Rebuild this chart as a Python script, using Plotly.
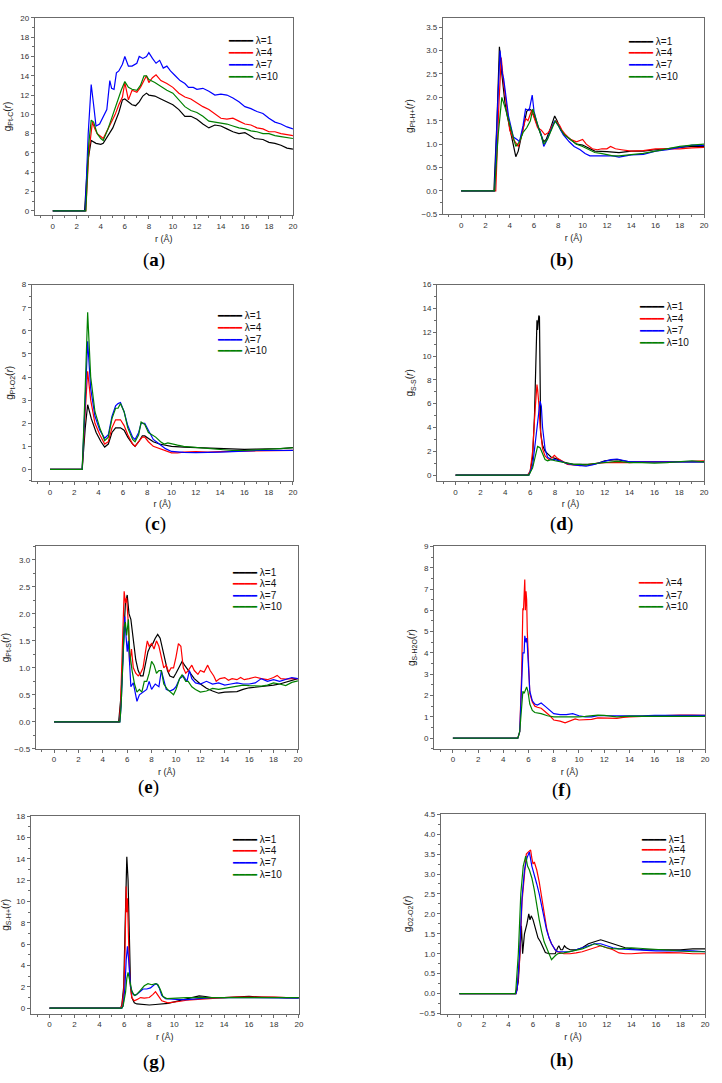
import plotly.graph_objects as go

# ---------------- data (r in Angstrom, g(r)) ----------------
lambdas = ["λ=1", "λ=4", "λ=7", "λ=10"]
colors = ["#000000", "#FF0000", "#0000FF", "#008000"]

# (a) Pt-C
a_l1 = [(0,0),(2.65,0),(2.9,5.0),(3.2,7.3),(3.6,7.0),(4.0,6.9),(4.2,7.0),(4.5,7.6),(5.0,8.6),(5.5,10.2),(5.8,11.5),(6.0,11.6),(6.3,11.3),(6.6,11.0),(6.9,10.9),(7.2,11.3),(7.5,11.9),(7.8,12.2),(8.0,12.0),(8.5,11.9),(9.0,11.6),(9.5,11.3),(10.0,11.0),(10.5,10.5),(11.0,9.8),(11.5,9.8),(12.0,9.5),(12.5,9.0),(13.0,8.6),(13.5,8.9),(14.0,8.8),(14.5,8.5),(15.0,8.2),(15.5,8.0),(16.0,8.1),(16.3,7.9),(16.8,7.5),(17.5,7.4),(18.0,7.1),(18.5,7.0),(19.0,6.8),(19.5,6.5),(20.0,6.4)]
a_l4 = [(0,0),(2.75,0),(3.0,6.0),(3.3,9.2),(3.5,8.5),(3.7,8.0),(4.0,7.7),(4.2,7.5),(4.6,8.5),(5.0,9.5),(5.2,10.0),(5.5,11.0),(5.8,11.8),(6.0,13.3),(6.3,11.5),(6.6,12.5),(7.0,12.3),(7.3,12.8),(7.6,13.5),(7.8,14.0),(8.0,13.3),(8.3,13.8),(8.6,14.1),(9.0,13.5),(9.5,13.2),(10.0,12.8),(10.5,12.2),(11.0,11.8),(11.5,11.6),(12.0,11.2),(12.5,10.8),(13.0,10.5),(13.5,10.0),(14.0,9.6),(14.5,9.5),(15.0,9.6),(15.5,9.3),(16.0,9.0),(16.5,8.9),(17.0,8.6),(17.5,8.5),(18.0,8.2),(18.5,8.2),(19.0,8.0),(19.5,7.9),(20.0,7.8)]
a_l7 = [(0,0),(2.7,0),(2.95,8.0),(3.2,13.1),(3.4,11.0),(3.6,8.8),(3.9,9.0),(4.3,10.0),(4.5,10.5),(4.75,13.5),(4.9,12.7),(5.1,12.6),(5.3,14.3),(5.5,14.5),(5.8,15.2),(6.0,16.0),(6.3,15.0),(6.6,15.0),(7.0,15.3),(7.2,16.0),(7.5,15.8),(7.8,16.0),(8.0,16.4),(8.3,15.8),(8.6,15.3),(8.9,15.6),(9.2,14.8),(9.5,15.0),(9.8,14.5),(10.2,14.0),(10.6,13.5),(11.0,13.2),(11.3,12.8),(11.7,12.8),(12.0,12.6),(12.5,12.7),(13.0,12.4),(13.5,12.0),(14.0,12.1),(14.5,12.0),(15.0,11.7),(15.5,11.3),(16.0,10.8),(16.5,10.6),(17.0,10.3),(17.5,10.1),(18.0,9.6),(18.5,9.2),(19.0,9.0),(19.5,8.7),(20.0,8.5)]
a_l10 = [(0,0),(2.75,0),(3.0,7.0),(3.2,9.4),(3.4,9.2),(3.7,8.0),(4.0,7.5),(4.2,7.3),(4.6,8.5),(5.0,10.0),(5.4,11.5),(5.7,12.5),(6.0,13.4),(6.3,12.8),(6.6,12.6),(7.0,12.5),(7.3,13.0),(7.6,14.0),(7.8,14.0),(8.0,13.6),(8.5,13.3),(9.0,12.9),(9.5,12.5),(10.0,12.2),(10.5,11.5),(11.0,10.8),(11.5,10.4),(12.0,10.2),(12.5,9.8),(13.0,9.3),(13.5,9.2),(14.0,9.1),(14.5,9.0),(15.0,8.8),(15.5,8.6),(16.0,8.5),(16.5,8.3),(17.0,8.2),(17.5,8.0),(18.0,8.0),(18.5,7.8),(19.0,7.7),(19.5,7.6),(20.0,7.5)]

# (b) Pt-H+
b_l1 = [(0,0),(2.7,0),(2.95,1.5),(3.15,3.08),(3.35,2.5),(3.6,1.9),(3.8,1.6),(4.1,1.2),(4.35,0.9),(4.5,0.73),(4.7,0.85),(4.9,1.1),(5.2,1.5),(5.4,1.7),(5.6,1.75),(5.8,1.72),(6.0,1.6),(6.2,1.45),(6.5,1.25),(6.8,1.05),(7.0,1.1),(7.3,1.3),(7.6,1.55),(7.7,1.6),(7.9,1.5),(8.2,1.3),(8.5,1.2),(9.0,1.1),(9.5,1.0),(10.0,0.98),(10.5,0.92),(11.0,0.85),(12.0,0.84),(13.0,0.82),(14.0,0.85),(15.0,0.85),(16.0,0.88),(17.0,0.9),(18.0,0.93),(19.0,0.95),(20.0,0.95)]
b_l4 = [(0,0),(2.85,0),(3.1,1.8),(3.3,2.85),(3.5,2.3),(3.8,1.7),(4.0,1.3),(4.3,1.1),(4.6,1.0),(4.7,0.95),(5.0,1.2),(5.3,1.55),(5.5,1.5),(5.8,1.72),(6.1,1.5),(6.3,1.35),(6.6,1.3),(6.9,1.2),(7.2,1.25),(7.5,1.4),(7.8,1.5),(8.1,1.4),(8.3,1.3),(8.6,1.2),(9.0,1.1),(9.5,1.05),(10.0,1.1),(10.3,1.0),(10.8,0.9),(11.2,0.88),(11.6,0.9),(12.0,0.9),(12.3,0.95),(12.7,0.9),(13.2,0.88),(14.0,0.85),(15.0,0.86),(16.0,0.9),(17.0,0.9),(18.0,0.9),(19.0,0.92),(20.0,0.93)]
b_l7 = [(0,0),(2.75,0),(3.0,1.8),(3.2,3.0),(3.4,2.5),(3.5,2.4),(3.9,1.6),(4.3,1.15),(4.6,1.1),(4.8,1.05),(5.1,1.4),(5.3,1.75),(5.6,1.72),(5.85,2.05),(6.0,1.7),(6.3,1.4),(6.6,1.2),(6.8,0.95),(7.0,1.05),(7.4,1.3),(7.7,1.5),(8.0,1.4),(8.4,1.2),(8.9,1.05),(9.3,0.95),(9.8,0.88),(10.2,0.8),(10.6,0.75),(11.0,0.75),(11.5,0.75),(12.0,0.75),(12.5,0.75),(13.0,0.72),(13.5,0.75),(14.0,0.77),(15.0,0.78),(16.0,0.85),(17.0,0.88),(18.0,0.93),(19.0,0.98),(20.0,0.97)]
b_l10 = [(0,0),(2.75,0),(3.05,1.2),(3.35,2.0),(3.6,1.8),(4.0,1.4),(4.3,1.15),(4.5,0.95),(4.8,1.05),(5.1,1.25),(5.4,1.35),(5.7,1.5),(5.9,1.75),(6.2,1.5),(6.5,1.25),(6.8,1.0),(7.1,1.1),(7.4,1.3),(7.75,1.5),(8.1,1.35),(8.5,1.2),(9.0,1.1),(9.5,1.0),(10.0,0.95),(10.5,0.88),(11.0,0.82),(11.5,0.8),(12.0,0.78),(12.5,0.75),(13.0,0.75),(14.0,0.78),(15.0,0.8),(16.0,0.85),(17.0,0.9),(18.0,0.95),(19.0,0.98),(20.0,1.0)]

# (c) Pt-O2
c_l1 = [(0,0),(2.65,0),(2.9,1.8),(3.1,2.8),(3.4,2.2),(3.8,1.6),(4.2,1.2),(4.5,0.97),(4.8,1.1),(5.1,1.6),(5.4,1.8),(5.8,1.8),(6.1,1.7),(6.4,1.4),(6.8,1.1),(7.0,1.0),(7.3,1.2),(7.6,1.45),(7.8,1.45),(8.1,1.35),(8.5,1.2),(9.0,1.1),(9.5,1.05),(10.0,1.0),(11.0,0.97),(12.0,0.95),(13.0,0.93),(14.0,0.9),(15.0,0.87),(16.0,0.87),(17.0,0.88),(18.0,0.88),(19.0,0.9),(20.0,0.95)]
c_l4 = [(0,0),(2.65,0),(2.9,2.5),(3.1,4.25),(3.35,3.0),(3.7,2.0),(4.1,1.5),(4.5,1.1),(4.8,1.2),(5.1,1.8),(5.4,2.15),(5.8,2.15),(6.1,1.9),(6.4,1.5),(6.8,1.1),(7.0,1.0),(7.3,1.2),(7.6,1.4),(7.8,1.4),(8.1,1.2),(8.5,1.0),(9.0,0.9),(9.5,0.8),(10.0,0.72),(10.5,0.72),(11.0,0.75),(12.0,0.77),(13.0,0.75),(14.0,0.77),(15.0,0.78),(16.0,0.8),(17.0,0.82),(18.0,0.82),(19.0,0.82),(20.0,0.83)]
c_l7 = [(0,0),(2.65,0),(2.9,3.0),(3.1,5.55),(3.35,3.5),(3.7,2.3),(4.1,1.7),(4.5,1.35),(4.8,1.5),(5.1,2.3),(5.4,2.75),(5.6,2.85),(5.8,2.9),(6.1,2.5),(6.4,1.9),(6.8,1.4),(7.0,1.3),(7.3,1.6),(7.5,2.0),(7.8,2.0),(8.1,1.7),(8.5,1.3),(9.0,1.1),(9.5,0.9),(10.0,0.78),(10.5,0.75),(11.0,0.74),(12.0,0.73),(13.0,0.73),(14.0,0.75),(15.0,0.77),(16.0,0.8),(17.0,0.82),(18.0,0.82),(19.0,0.82),(20.0,0.83)]
c_l10 = [(0,0),(2.65,0),(2.9,3.5),(3.1,6.8),(3.35,4.0),(3.7,2.5),(4.1,1.8),(4.5,1.25),(4.8,1.4),(5.1,2.2),(5.4,2.65),(5.6,2.65),(5.8,2.85),(6.1,2.5),(6.4,1.8),(6.8,1.3),(7.0,1.2),(7.3,1.5),(7.5,2.05),(7.8,1.95),(8.1,1.6),(8.5,1.45),(8.7,1.4),(9.1,1.2),(9.4,1.1),(9.7,1.15),(10.0,1.1),(10.5,1.05),(11.0,1.0),(12.0,0.95),(13.0,0.9),(14.0,0.85),(15.0,0.82),(16.0,0.82),(17.0,0.85),(18.0,0.88),(19.0,0.9),(20.0,0.93)]

# (d) S-S
d_l1 = [(0,0),(5.8,0),(6.0,0.3),(6.2,1.5),(6.35,5.0),(6.45,10.0),(6.5,12.8),(6.55,13.0),(6.6,12.2),(6.65,13.0),(6.7,13.4),(6.75,13.3),(6.8,8.0),(6.85,3.5),(7.0,2.5),(7.2,2.0),(7.4,1.8),(7.7,1.5),(8.0,1.4),(8.3,1.3),(8.7,1.1),(9.0,1.0),(9.5,0.9),(10.0,0.9),(10.5,0.85),(11.0,0.9),(11.5,1.0),(12.0,1.2),(12.5,1.25),(13.0,1.3),(13.5,1.2),(14.0,1.1),(15.0,1.1),(16.0,1.1),(17.0,1.1),(18.0,1.1),(19.0,1.15),(20.0,1.1)]
d_l4 = [(0,0),(5.8,0),(6.0,0.3),(6.2,2.0),(6.4,5.5),(6.55,7.6),(6.6,7.2),(6.7,6.0),(6.8,4.0),(7.0,2.2),(7.2,1.6),(7.5,1.3),(7.8,1.5),(7.95,1.65),(8.2,1.4),(8.5,1.2),(8.8,1.0),(9.0,0.9),(9.5,0.85),(10.0,0.8),(10.5,0.85),(11.0,0.95),(11.5,1.0),(12.0,1.05),(12.5,1.05),(13.0,1.0),(14.0,1.05),(15.0,1.1),(16.0,1.1),(17.0,1.1),(18.0,1.1),(19.0,1.15),(20.0,1.2)]
d_l7 = [(0,0),(5.9,0),(6.2,0.8),(6.4,2.5),(6.6,4.5),(6.8,6.2),(6.9,5.8),(7.0,4.0),(7.2,2.2),(7.4,1.5),(7.7,1.3),(8.0,1.3),(8.5,1.15),(9.0,0.95),(9.5,0.85),(10.0,0.8),(10.5,0.75),(11.0,0.85),(11.5,1.0),(12.0,1.2),(12.5,1.3),(13.0,1.35),(13.5,1.2),(14.0,1.1),(15.0,1.1),(16.0,1.1),(17.0,1.15),(18.0,1.1),(19.0,1.15),(20.0,1.1)]
d_l10 = [(0,0),(5.9,0),(6.2,0.6),(6.4,1.5),(6.6,2.4),(6.8,2.3),(7.0,1.8),(7.2,1.3),(7.4,1.2),(7.7,1.3),(8.0,1.2),(8.5,1.1),(9.0,0.95),(9.5,0.9),(10.0,0.9),(10.5,0.85),(11.0,0.95),(11.5,1.0),(12.0,1.1),(12.5,1.15),(13.0,1.15),(13.5,1.1),(14.0,1.05),(15.0,1.05),(16.0,1.0),(17.0,1.05),(18.0,1.1),(19.0,1.2),(20.0,1.1)]

# (e) Pt-S
e_l1 = [(0,0),(5.3,0),(5.5,0.5),(5.7,1.6),(5.85,2.2),(6.0,2.35),(6.15,2.0),(6.3,1.9),(6.5,1.5),(6.7,1.15),(6.9,0.95),(7.1,0.85),(7.3,0.85),(7.5,1.1),(7.7,1.3),(7.9,1.4),(8.1,1.45),(8.3,1.55),(8.5,1.62),(8.7,1.55),(8.9,1.35),(9.1,1.1),(9.3,0.95),(9.5,0.85),(9.8,0.82),(10.0,0.9),(10.3,1.05),(10.5,1.12),(10.7,1.05),(11.0,0.95),(11.5,0.8),(12.0,0.7),(12.5,0.62),(13.0,0.57),(13.5,0.53),(14.0,0.55),(14.5,0.55),(15.0,0.56),(15.5,0.6),(16.0,0.63),(16.5,0.64),(17.0,0.65),(17.5,0.66),(18.0,0.68),(18.5,0.7),(19.0,0.73),(19.5,0.76),(20.0,0.8)]
e_l4 = [(0,0),(5.35,0),(5.45,0.3),(5.6,1.5),(5.75,2.42),(5.85,2.2),(5.95,2.3),(6.1,1.8),(6.2,1.05),(6.35,1.35),(6.5,1.0),(6.7,0.9),(6.9,0.85),(7.1,0.9),(7.3,1.0),(7.5,1.3),(7.65,1.5),(7.8,1.4),(8.0,1.45),(8.2,1.35),(8.4,1.5),(8.6,1.4),(8.8,1.2),(9.0,1.0),(9.2,1.05),(9.4,0.92),(9.6,1.0),(9.8,1.0),(10.0,1.2),(10.2,1.45),(10.4,1.4),(10.6,1.0),(10.8,0.9),(11.0,0.95),(11.3,1.05),(11.5,0.95),(11.8,0.88),(12.0,0.95),(12.3,0.92),(12.6,1.05),(12.8,0.95),(13.1,0.85),(13.3,0.75),(13.6,0.8),(14.0,0.82),(14.3,0.77),(14.6,0.8),(15.0,0.78),(15.3,0.82),(15.6,0.78),(16.0,0.8),(16.5,0.83),(17.0,0.8),(17.5,0.78),(18.0,0.82),(18.3,0.86),(18.6,0.8),(19.0,0.79),(19.5,0.8),(20.0,0.8)]
e_l7 = [(0,0),(5.4,0),(5.5,0.3),(5.65,1.2),(5.8,1.95),(5.9,1.6),(6.0,1.3),(6.1,1.5),(6.2,0.9),(6.3,0.65),(6.5,0.72),(6.7,0.45),(6.8,0.38),(7.0,0.5),(7.3,0.55),(7.6,0.6),(7.8,0.75),(8.0,0.6),(8.3,0.7),(8.6,0.65),(8.8,0.95),(9.0,0.75),(9.2,0.6),(9.5,0.57),(9.8,0.6),(10.0,0.65),(10.3,0.8),(10.6,0.85),(10.9,0.75),(11.1,0.95),(11.3,0.8),(11.6,0.72),(12.0,0.7),(12.5,0.75),(13.0,0.7),(13.5,0.72),(14.0,0.68),(14.5,0.7),(15.0,0.72),(15.5,0.7),(16.0,0.7),(16.5,0.72),(17.0,0.8),(17.5,0.75),(18.0,0.78),(18.5,0.75),(19.0,0.78),(19.5,0.82),(20.0,0.8)]
e_l10 = [(0,0),(5.4,0),(5.5,0.3),(5.65,1.4),(5.75,1.75),(5.85,1.85),(5.95,1.6),(6.1,1.9),(6.2,1.3),(6.4,0.95),(6.6,0.7),(6.8,0.55),(7.0,0.6),(7.2,0.55),(7.4,0.75),(7.6,0.75),(7.8,0.9),(8.0,1.12),(8.2,1.05),(8.4,0.9),(8.6,0.95),(8.8,0.95),(9.0,0.7),(9.3,0.6),(9.6,0.55),(9.8,0.5),(10.0,0.6),(10.3,0.8),(10.5,0.87),(10.8,0.75),(11.0,0.75),(11.3,0.65),(11.6,0.6),(12.0,0.55),(12.5,0.57),(13.0,0.62),(13.5,0.6),(14.0,0.62),(14.5,0.65),(15.0,0.66),(15.5,0.68),(16.0,0.67),(16.5,0.66),(17.0,0.66),(17.5,0.68),(18.0,0.72),(18.5,0.7),(19.0,0.67),(19.5,0.73),(20.0,0.76)]

# (f) S-H2O  (no λ=1 curve)
f_l4 = [(0,0),(5.15,0),(5.3,0.3),(5.45,3.0),(5.55,6.1),(5.6,6.0),(5.7,7.45),(5.75,6.0),(5.8,6.9),(5.85,6.5),(5.9,5.0),(6.0,3.0),(6.1,2.1),(6.3,1.7),(6.5,1.5),(6.7,1.45),(7.0,1.4),(7.3,1.25),(7.6,1.1),(8.0,0.85),(8.5,0.8),(8.9,0.72),(9.3,0.8),(9.7,0.9),(10.0,0.85),(10.5,0.85),(11.0,0.88),(11.5,0.95),(12.0,0.95),(12.5,0.95),(13.0,0.93),(13.5,0.97),(14.0,1.0),(15.0,1.02),(16.0,1.05),(17.0,1.08),(18.0,1.08),(19.0,1.08),(20.0,1.07)]
f_l7 = [(0,0),(5.15,0),(5.3,0.3),(5.45,2.5),(5.55,4.0),(5.65,4.0),(5.7,4.8),(5.8,4.5),(5.85,4.7),(5.9,4.4),(6.0,3.0),(6.1,2.2),(6.3,1.75),(6.5,1.6),(6.7,1.55),(7.0,1.65),(7.3,1.5),(7.6,1.35),(8.0,1.15),(8.5,1.1),(9.0,1.1),(9.5,1.15),(10.0,1.05),(10.5,1.0),(11.0,1.0),(11.5,1.05),(12.0,1.05),(13.0,1.03),(14.0,1.05),(15.0,1.05),(16.0,1.07),(17.0,1.08),(18.0,1.07),(19.0,1.07),(20.0,1.07)]
f_l10 = [(0,0),(5.15,0),(5.3,0.3),(5.45,1.3),(5.55,2.2),(5.65,2.1),(5.75,2.3),(5.85,2.4),(5.95,2.2),(6.1,1.6),(6.3,1.3),(6.5,1.2),(7.0,1.15),(7.5,1.05),(8.0,1.0),(8.5,1.0),(9.0,0.97),(9.5,0.97),(10.0,1.0),(10.5,1.02),(11.0,1.05),(11.5,1.08),(12.0,1.07),(12.5,1.03),(13.0,1.0),(14.0,1.03),(15.0,1.03),(16.0,1.02),(17.0,1.02),(18.0,1.03),(19.0,1.03),(20.0,1.02)]

# (g) S-H+
g_l1 = [(0,0),(5.7,0),(5.8,0.3),(5.95,2.0),(6.05,7.0),(6.15,12.0),(6.2,14.2),(6.3,12.0),(6.4,6.0),(6.5,2.0),(6.6,1.0),(6.8,0.5),(7.0,0.4),(7.5,0.35),(8.0,0.3),(8.5,0.35),(9.0,0.4),(9.5,0.45),(10.0,0.6),(10.5,0.75),(11.0,0.85),(11.5,1.0),(12.0,1.15),(12.5,1.1),(13.0,1.0),(14.0,1.0),(15.0,1.05),(16.0,1.1),(17.0,1.05),(18.0,1.0),(19.0,1.0),(20.0,1.0)]
g_l4 = [(0,0),(5.7,0),(5.8,0.2),(5.95,1.5),(6.05,5.0),(6.15,11.4),(6.2,9.0),(6.25,10.3),(6.35,6.0),(6.45,2.5),(6.6,1.0),(6.8,0.7),(7.0,0.8),(7.3,1.0),(7.6,0.95),(8.0,1.0),(8.3,1.3),(8.5,1.55),(8.7,1.2),(9.0,0.7),(9.5,0.5),(10.0,0.55),(10.5,0.65),(11.0,0.75),(11.5,0.8),(12.0,0.85),(13.0,0.9),(14.0,1.0),(15.0,1.05),(16.0,1.05),(17.0,1.1),(18.0,1.05),(19.0,1.0),(20.0,1.0)]
g_l7 = [(0,0),(5.8,0),(5.9,0.2),(6.05,2.0),(6.15,4.5),(6.25,5.8),(6.35,4.5),(6.5,2.0),(6.7,1.3),(6.9,1.2),(7.2,1.5),(7.5,1.8),(7.8,1.8),(8.1,1.9),(8.4,2.2),(8.6,2.3),(8.8,1.9),(9.0,1.2),(9.3,0.9),(9.7,0.85),(10.0,0.85),(10.5,0.8),(11.0,0.8),(11.5,0.85),(12.0,0.9),(13.0,1.0),(14.0,1.0),(15.0,1.0),(16.0,1.0),(17.0,1.0),(18.0,1.0),(19.0,1.0),(20.0,0.95)]
g_l10 = [(0,0),(5.8,0),(5.9,0.2),(6.1,1.5),(6.2,2.8),(6.3,3.35),(6.45,2.5),(6.6,1.6),(6.8,1.2),(7.0,1.3),(7.3,1.7),(7.6,2.1),(7.9,2.3),(8.2,2.2),(8.5,2.3),(8.7,2.2),(8.9,1.7),(9.1,1.1),(9.4,0.9),(10.0,0.95),(10.5,0.95),(11.0,1.0),(11.5,1.0),(12.0,1.0),(13.0,1.0),(14.0,1.0),(15.0,1.0),(16.0,0.95),(17.0,1.0),(18.0,1.0),(19.0,1.0),(20.0,1.0)]

# (h) O2-O2
h_l1 = [(0,0),(4.6,0),(4.8,0.3),(5.0,1.2),(5.05,1.7),(5.15,1.0),(5.3,1.5),(5.5,1.75),(5.65,2.0),(5.75,1.85),(5.85,1.95),(6.0,1.85),(6.2,1.6),(6.4,1.4),(6.6,1.3),(6.8,1.15),(7.0,1.03),(7.3,1.0),(7.6,1.0),(7.8,1.0),(8.0,1.15),(8.1,1.2),(8.25,1.1),(8.4,1.1),(8.55,1.2),(8.7,1.15),(9.0,1.1),(9.5,1.1),(10.0,1.15),(10.5,1.25),(11.0,1.3),(11.5,1.35),(12.0,1.3),(12.5,1.25),(13.0,1.2),(13.5,1.15),(14.0,1.13),(15.0,1.1),(16.0,1.1),(17.0,1.1),(18.0,1.1),(19.0,1.12),(20.0,1.12)]
h_l4 = [(0,0),(4.6,0),(4.7,0.1),(4.9,0.8),(5.1,2.3),(5.3,3.0),(5.45,3.5),(5.6,3.55),(5.8,3.6),(5.9,3.4),(6.0,3.25),(6.1,3.3),(6.3,3.1),(6.5,2.8),(6.7,2.4),(6.9,2.0),(7.1,1.65),(7.3,1.4),(7.5,1.25),(7.8,1.1),(8.0,1.05),(8.5,1.0),(9.0,1.0),(9.5,1.02),(10.0,1.05),(10.5,1.1),(11.0,1.15),(11.5,1.2),(12.0,1.15),(12.5,1.1),(13.0,1.02),(13.5,1.0),(14.0,1.0),(15.0,1.02),(16.0,1.02),(17.0,1.03),(18.0,1.02),(19.0,1.0),(20.0,1.0)]
h_l7 = [(0,0),(4.6,0),(4.7,0.1),(4.9,1.0),(5.1,2.4),(5.3,3.1),(5.5,3.4),(5.7,3.55),(5.9,3.2),(6.1,3.0),(6.3,2.75),(6.5,2.5),(6.7,2.2),(6.9,1.9),(7.1,1.6),(7.3,1.4),(7.5,1.25),(7.8,1.1),(8.0,1.05),(8.5,1.05),(9.0,1.05),(9.5,1.1),(10.0,1.15),(10.5,1.2),(11.0,1.25),(11.5,1.25),(12.0,1.2),(12.5,1.15),(13.0,1.12),(14.0,1.1),(15.0,1.08),(16.0,1.07),(17.0,1.07),(18.0,1.08),(19.0,1.07),(20.0,1.05)]
h_l10 = [(0,0),(4.55,0),(4.6,0.1),(4.8,1.0),(5.0,2.5),(5.2,3.2),(5.4,3.45),(5.55,3.2),(5.7,3.1),(5.9,2.9),(6.1,2.6),(6.3,2.2),(6.5,1.85),(6.7,1.55),(6.9,1.3),(7.1,1.15),(7.3,1.0),(7.5,0.85),(7.8,0.95),(8.0,1.0),(8.5,1.02),(9.0,1.05),(9.5,1.08),(10.0,1.12),(10.5,1.18),(11.0,1.25),(11.5,1.2),(12.0,1.15),(12.5,1.13),(13.0,1.12),(14.0,1.15),(15.0,1.13),(16.0,1.1),(17.0,1.08),(18.0,1.07),(19.0,1.05),(20.0,1.05)]

panel_letters = ["a", "b", "c", "d", "e", "f", "g", "h"]
y_titles = ["g<sub>Pt-C</sub>(<i>r</i>)", "g<sub>Pt-H+</sub>(<i>r</i>)", "g<sub>Pt-O2</sub>(<i>r</i>)",
            "g<sub>S-S</sub>(<i>r</i>)", "g<sub>Pt-S</sub>(<i>r</i>)", "g<sub>S-H2O</sub>(<i>r</i>)",
            "g<sub>S-H+</sub>(<i>r</i>)", "g<sub>O2-O2</sub>(<i>r</i>)"]
panel_series = [
    [a_l1, a_l4, a_l7, a_l10],
    [b_l1, b_l4, b_l7, b_l10],
    [c_l1, c_l4, c_l7, c_l10],
    [d_l1, d_l4, d_l7, d_l10],
    [e_l1, e_l4, e_l7, e_l10],
    [None, f_l4, f_l7, f_l10],
    [g_l1, g_l4, g_l7, g_l10],
    [h_l1, h_l4, h_l7, h_l10],
]
y_ranges = [(-0.45, 20), (-0.5, 3.7), (-0.5, 8), (-0.5, 16), (-0.5, 3.25), (-0.5, 9), (-0.5, 18), (-0.5, 4.5)]
y_dticks = [2, 0.5, 1, 2, 0.5, 1, 2, 0.5]
y_formats = ["d", ".1f", "d", "d", ".1f", "d", "d", ".1f"]
x_range = (-1.5, 20)

# ---------------- layout geometry (pixels) ----------------
W, H = 722, 1083
# left, right, top, bottom of each plot area
boxes = [(35, 295, 14, 213), (446, 709, 14, 212),
         (32, 295, 283, 481), (440, 709, 283, 481),
         (36, 300, 547, 751), (437, 710, 547, 751),
         (31, 301, 819, 1018), (444, 710, 817, 1018)]
# legend: swatch left x, row centre y of each entry
legend_x = [228, 630, 216, 641, 232, 640, 232, 643]
legend_rows = [[37, 49, 61, 73], [38, 49, 61, 73], [314, 326, 338, 349], [305, 317, 329, 341],
               [573, 584, 596, 608], [None, 583, 596, 608], [843, 854, 866, 878], [842, 853, 865, 877]]
label_pos = [(155, 258), (565, 258), (157, 524), (565, 524),
             (150, 790), (565, 793), (155, 1067), (565, 1065)]

fig = go.Figure()
axis_color = "#6b6b6b"
font_fam = "Liberation Sans, Arial, sans-serif"

layout = dict(width=W, height=H, margin=dict(l=0, r=0, t=0, b=0),
              paper_bgcolor="white", plot_bgcolor="white",
              font=dict(family=font_fam, size=9, color="#222"),
              showlegend=False, annotations=[])

for i in range(8):
    k = "" if i == 0 else str(i + 1)
    xa, ya = "x" + k, "y" + k
    for j, s in enumerate(panel_series[i]):
        if s is None:
            continue
        fig.add_trace(go.Scatter(
            x=[p[0] for p in s], y=[p[1] for p in s], mode="lines",
            name=lambdas[j], line=dict(color=colors[j], width=1.2),
            xaxis=xa, yaxis=ya))
        # compact legend entry (Origin-style), as text
        ry = legend_rows[i][j]
        layout["annotations"].append(dict(
            x=legend_x[i] / W, y=1 - ry / H, xref="paper", yref="paper",
            xanchor="left", yanchor="middle", showarrow=False,
            text='<span style="color:%s;font-family:DejaVu Sans">━━━━</span> %s' % (colors[j], lambdas[j]),
            font=dict(size=10, family=font_fam, color="#111")))
    l, r, t, b = boxes[i]
    common = dict(showline=True, linecolor=axis_color, linewidth=1, mirror=True,
                  ticks="outside", ticklen=3, tickcolor=axis_color, tickwidth=1,
                  showgrid=False, zeroline=False,
                  tickfont=dict(size=8, color="#333", family=font_fam))
    layout["xaxis" + k] = dict(common, domain=[l / W, r / W], range=list(x_range),
                               anchor=ya, tick0=0, dtick=2,
                               minor=dict(ticks="outside", ticklen=2, dtick=1, tick0=0, tickcolor=axis_color),
                               title=dict(text="r (Å)", font=dict(size=9), standoff=5))
    yr = y_ranges[i]
    layout["yaxis" + k] = dict(common, domain=[1 - b / H, 1 - t / H], range=list(yr),
                               anchor=xa, tick0=0, dtick=y_dticks[i], tickformat=y_formats[i],
                               minor=dict(ticks="outside", ticklen=2, dtick=y_dticks[i] / 2, tick0=0, tickcolor=axis_color),
                               title=dict(text=y_titles[i], font=dict(size=10), standoff=6))
    px, py = label_pos[i]
    layout["annotations"].append(dict(
        x=px / W, y=1 - py / H, xref="paper", yref="paper", showarrow=False,
        text="(<b>" + panel_letters[i] + "</b>)",
        font=dict(family="Liberation Serif, Times New Roman, serif", size=19, color="#000"),
        xanchor="center", yanchor="middle"))

fig.update_layout(**layout)
fig.write_html("out.html", config={"displayModeBar": False},
               post_script="document.body.style.margin='0';document.body.style.overflow='hidden';")
